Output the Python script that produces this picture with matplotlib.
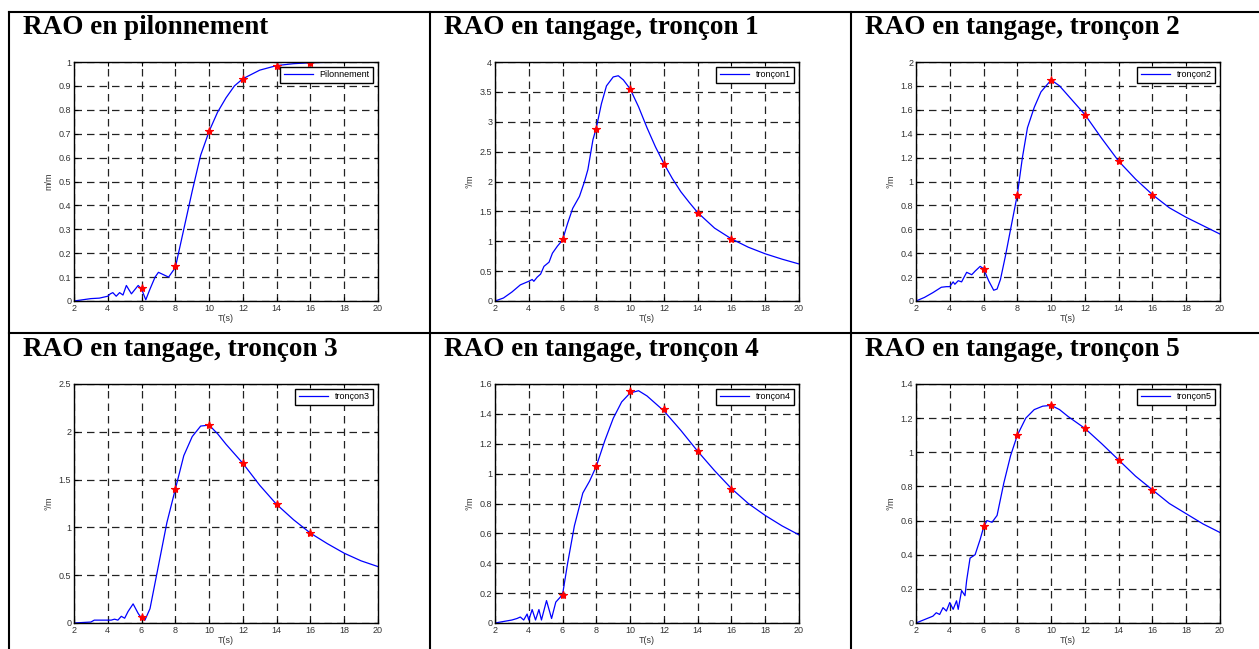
import numpy as np
import matplotlib
matplotlib.use('Agg')
import matplotlib.pyplot as plt
from matplotlib.lines import Line2D

plt.rcParams['font.family'] = ['Liberation Sans', 'DejaVu Sans']

# ---- data ----
titles = ['RAO en pilonnement', 'RAO en tangage, tronçon 1', 'RAO en tangage, tronçon 2',
          'RAO en tangage, tronçon 3', 'RAO en tangage, tronçon 4', 'RAO en tangage, tronçon 5']
legends = ['Pilonnement', 'tronçon1', 'tronçon2', 'tronçon3', 'tronçon4', 'tronçon5']
ylabels = ['m/m', '°/m', '°/m', '°/m', '°/m', '°/m']
ylims = [1, 4, 2, 2.5, 1.6, 1.4]
ysteps = [0.1, 0.5, 0.2, 0.5, 0.2, 0.2]

pil_t = [2, 2.5, 3, 3.5, 4, 4.15, 4.3, 4.5, 4.7, 4.9, 5.1, 5.4, 5.8, 6.0, 6.25, 6.5, 6.8, 7.0, 7.3, 7.6,
         8.0, 8.5, 9.0, 9.5, 10, 10.5, 11, 11.5, 12, 13, 14, 15, 16, 18, 20]
pil_y = [0, 0.005, 0.01, 0.012, 0.02, 0.03, 0.035, 0.02, 0.035, 0.025, 0.065, 0.03, 0.065, 0.05, 0.005,
         0.05, 0.10, 0.12, 0.11, 0.10, 0.14, 0.30, 0.46, 0.61, 0.71, 0.79, 0.85, 0.90, 0.93, 0.966, 0.985,
         0.993, 0.997, 1.0, 1.0]

t1_t = [2, 2.5, 3, 3.5, 4, 4.2, 4.3, 4.5, 4.7, 4.9, 5.2, 5.4, 5.7, 6.0, 6.3, 6.6, 7.0, 7.3, 7.5, 7.8, 8.0,
        8.3, 8.6, 9.0, 9.3, 9.6, 10, 10.5, 11, 11.5, 12, 12.5, 13, 13.5, 14, 15, 16, 17, 18, 19, 20]
t1_y = [0, 0.05, 0.15, 0.27, 0.33, 0.36, 0.33, 0.40, 0.45, 0.58, 0.65, 0.80, 0.92, 1.02, 1.30, 1.55, 1.75,
        2.0, 2.2, 2.7, 2.9, 3.3, 3.6, 3.75, 3.77, 3.70, 3.55, 3.25, 2.90, 2.58, 2.30, 2.05, 1.83, 1.65,
        1.48, 1.22, 1.04, 0.90, 0.79, 0.70, 0.62]

t2_t = [2, 2.5, 3, 3.5, 3.8, 4, 4.2, 4.3, 4.5, 4.7, 5.0, 5.3, 5.5, 5.8, 6.0, 6.3, 6.6, 6.8, 7.0, 7.3, 7.6,
        8.0, 8.3, 8.6, 9.0, 9.4, 10, 10.5, 11, 12, 13, 14, 15, 16, 17, 18, 19, 20]
t2_y = [0, 0.03, 0.07, 0.115, 0.12, 0.12, 0.16, 0.14, 0.17, 0.16, 0.24, 0.22, 0.25, 0.29, 0.27, 0.17, 0.09,
        0.10, 0.18, 0.38, 0.60, 0.89, 1.20, 1.45, 1.62, 1.75, 1.85, 1.80, 1.72, 1.56, 1.36, 1.17, 1.02,
        0.89, 0.78, 0.70, 0.63, 0.56]

t3_t = [2, 3, 3.2, 3.5, 4, 4.2, 4.4, 4.6, 4.8, 5.0, 5.2, 5.5, 5.8, 6.0, 6.2, 6.5, 7.0, 7.5, 8.0, 8.5, 9.0,
        9.5, 10, 10.5, 11, 12, 13, 14, 15, 16, 17, 18, 19, 20]
t3_y = [0, 0.01, 0.03, 0.03, 0.03, 0.03, 0.04, 0.03, 0.07, 0.05, 0.12, 0.20, 0.10, 0.05, 0.03, 0.15, 0.60,
        1.05, 1.40, 1.75, 1.95, 2.06, 2.07, 1.98, 1.87, 1.67, 1.44, 1.24, 1.08, 0.94, 0.83, 0.73, 0.65, 0.59]

t4_t = [2, 2.5, 3, 3.3, 3.5, 3.7, 3.9, 4.0, 4.2, 4.4, 4.6, 4.75, 5.05, 5.35, 5.6, 6.0, 6.3, 6.7, 7.2, 7.6,
        8.0, 8.5, 9.0, 9.5, 10, 10.5, 11, 12, 13, 14, 15, 16, 17, 18, 19, 20]
t4_y = [0, 0.01, 0.02, 0.03, 0.04, 0.02, 0.06, 0.02, 0.09, 0.02, 0.09, 0.02, 0.15, 0.03, 0.14, 0.19, 0.40,
        0.65, 0.87, 0.95, 1.05, 1.22, 1.37, 1.48, 1.54, 1.555, 1.52, 1.42, 1.29, 1.15, 1.02, 0.90, 0.80,
        0.72, 0.65, 0.59]

t5_t = [2, 2.5, 3, 3.2, 3.4, 3.6, 3.8, 4.0, 4.2, 4.4, 4.5, 4.7, 4.9, 5.0, 5.2, 5.5, 5.8, 6.0, 6.2, 6.5, 6.8,
        7.2, 7.6, 8.0, 8.5, 9.0, 9.5, 10, 10.5, 11, 12, 13, 14, 15, 16, 17, 18, 19, 20]
t5_y = [0, 0.02, 0.04, 0.06, 0.05, 0.09, 0.07, 0.12, 0.08, 0.13, 0.08, 0.19, 0.16, 0.25, 0.38, 0.40, 0.49,
        0.56, 0.60, 0.59, 0.63, 0.82, 0.98, 1.10, 1.20, 1.25, 1.27, 1.275, 1.25, 1.21, 1.14, 1.05, 0.955,
        0.86, 0.78, 0.70, 0.64, 0.58, 0.53]

mark_t = [6, 8, 10, 12, 14, 16]
pil_m = [0.055, 0.145, 0.71, 0.93, 0.985, 0.995]
t1_m = [1.03, 2.88, 3.55, 2.30, 1.48, 1.04]
t2_m = [0.265, 0.89, 1.85, 1.56, 1.17, 0.89]
t3_m = [0.06, 1.40, 2.07, 1.67, 1.24, 0.94]
t4_m = [0.19, 1.05, 1.55, 1.43, 1.15, 0.90]
t5_m = [0.57, 1.10, 1.275, 1.145, 0.955, 0.78]

curves = [(pil_t, pil_y), (t1_t, t1_y), (t2_t, t2_y), (t3_t, t3_y), (t4_t, t4_y), (t5_t, t5_y)]
marks = [pil_m, t1_m, t2_m, t3_m, t4_m, t5_m]

W, H = 1259, 649
fig = plt.figure(figsize=(W / 100, H / 100), dpi=100)

# pixel boxes for each axes
ax_left = [74, 495, 916]
ax_top = [62, 384]
ax_w, ax_h = 304, 239
title_x = [23, 444, 865]
title_y = [34, 356]

for i in range(6):
    r, c = divmod(i, 3)
    l, t = ax_left[c], ax_top[r]
    ax = fig.add_axes([l / W, 1 - (t + ax_h) / H, ax_w / W, ax_h / H])
    tt, yy = curves[i]
    ax.plot(tt, yy, color='#0000ff', lw=0.9, label=legends[i])
    ax.plot(mark_t, marks[i], '*', color='red', ms=6, mew=0.8, ls='none')
    ax.set_xlim(2, 20)
    ax.set_ylim(0, ylims[i])
    ax.set_xticks(np.arange(2, 21, 2))
    yt = np.round(np.arange(0, ylims[i] + 1e-9, ysteps[i]), 2)
    ax.set_yticks(yt)
    ax.set_yticklabels(['%g' % v for v in yt])
    ax.tick_params(direction='in', length=3, width=0.8, labelsize=6.5, top=True, right=True,
                   labelcolor='#333333', pad=2)
    ax.grid(True, color='#222222', lw=0.9, ls=(0, (6, 4)))
    for s in ax.spines.values():
        s.set_linewidth(1.0)
    ax.set_xlabel('T(s)', fontsize=6.5, color='#333333', labelpad=1)
    ax.set_ylabel(ylabels[i], fontsize=6.5, color='#333333', labelpad=4)
    leg = ax.legend(loc='upper right', fontsize=6.5, fancybox=False, framealpha=1,
                    handlelength=3.2, borderpad=0.4, borderaxespad=0.5)
    leg.get_frame().set_edgecolor('black')
    leg.get_frame().set_linewidth(1.0)

    fig.text(title_x[c] / W, 1 - title_y[r] / H, titles[i], fontsize=19.5, fontweight='bold',
             family='Liberation Serif', va='baseline', ha='left')

# table lines
lw = 1.5
def hline(y, x0=9, x1=W):
    fig.add_artist(Line2D([x0 / W, x1 / W], [1 - y / H, 1 - y / H], color='black', lw=lw,
                          transform=fig.transFigure))
def vline(x, y0=12, y1=H):
    fig.add_artist(Line2D([x / W, x / W], [1 - y0 / H, 1 - y1 / H], color='black', lw=lw,
                          transform=fig.transFigure))

hline(12)
hline(333)
vline(9)
vline(430)
vline(851)

fig.savefig('out.png', dpi=100)
